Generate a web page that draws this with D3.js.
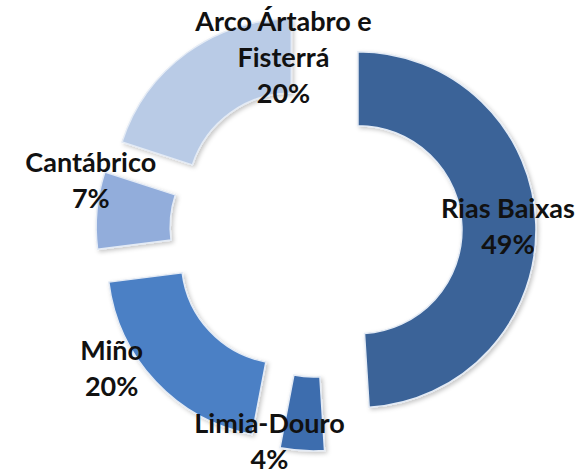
<!DOCTYPE html>
<html>
<head>
<meta charset="utf-8">
<script src="https://cdn.jsdelivr.net/npm/d3@7"></script>
<style>
  body { margin: 0; background: #fff; }
  svg { display: block; }
  .lbl { font-family: Lato, "Open Sans", sans-serif; font-size: 27px; font-weight: 700; fill: #111; }
</style>
</head>
<body>
<svg id="donut" width="581" height="472"></svg>
<script>
'use strict';

// data
var categories = ['Rias Baixas', 'Limia-Douro', 'Miño', 'Cantábrico', 'Arco Ártabro e Fisterrá']
var values = [49, 4, 20, 7, 20]
var labelLines = [['Rias Baixas'], ['Limia-Douro'], ['Miño'], ['Cantábrico'], ['Arco Ártabro e', 'Fisterrá']]

// look
var colors = ['#3a6398', '#3e6dae', '#4c80c5', '#92addb', '#b9cbe6']
// labels were dragged away from the slice centroid
var labelShift = [[9, -7], [-35, 19], [-71, 4], [-43, -42], [75, -52]]

var width = 581, height = 472
var cx = 316, cy = 231
var outerR = 178, innerR = 104, explode = 42, lineH = 36

var svg = d3.select('#donut')

var defs = svg.append('defs')
var shadow = defs.append('filter').attr('id', 'shadow')
    .attr('x', '-20%').attr('y', '-20%').attr('width', '140%').attr('height', '140%')
shadow.append('feDropShadow')
    .attr('dx', 2).attr('dy', 2).attr('stdDeviation', 2)
    .attr('flood-color', '#000').attr('flood-opacity', 0.22)

var total = d3.sum(values)
var rows = categories.map(function(c, i) {
    return { name: c, value: values[i], lines: labelLines[i], color: colors[i], shift: labelShift[i] }
})

var pie = d3.pie().sort(null).value(function(d) { return d.value })
var arc = d3.arc().innerRadius(innerR).outerRadius(outerR)

var slices = pie(rows)

function offset(d) {
    var mid = (d.startAngle + d.endAngle) / 2
    return [Math.sin(mid) * explode, -Math.cos(mid) * explode]
}

var g = svg.append('g').attr('transform', 'translate(' + cx + ',' + cy + ')')

g.selectAll('path')
    .data(slices)
    .enter().append('path')
    .attr('transform', function(d) { var o = offset(d); return 'translate(' + o[0] + ',' + o[1] + ')' })
    .attr('d', arc)
    .attr('fill', function(d) { return d.data.color })
    .attr('stroke', '#e4ebf5')
    .attr('stroke-width', 1.5)
    .attr('filter', 'url(#shadow)')

var labels = g.selectAll('text')
    .data(slices)
    .enter().append('text')
    .attr('class', 'lbl')
    .attr('text-anchor', 'middle')
    .attr('transform', function(d) {
        var o = offset(d)
        var c = arc.centroid(d)
        return 'translate(' + (c[0] + o[0] + d.data.shift[0]) + ',' + (c[1] + o[1] + d.data.shift[1]) + ')'
    })

labels.each(function(d) {
    var t = d3.select(this)
    var lines = d.data.lines.concat([Math.round(d.data.value / total * 100) + '%'])
    lines.forEach(function(line, i) {
        t.append('tspan').attr('x', 0).attr('y', i * lineH).text(line)
    })
})
</script>
</body>
</html>
